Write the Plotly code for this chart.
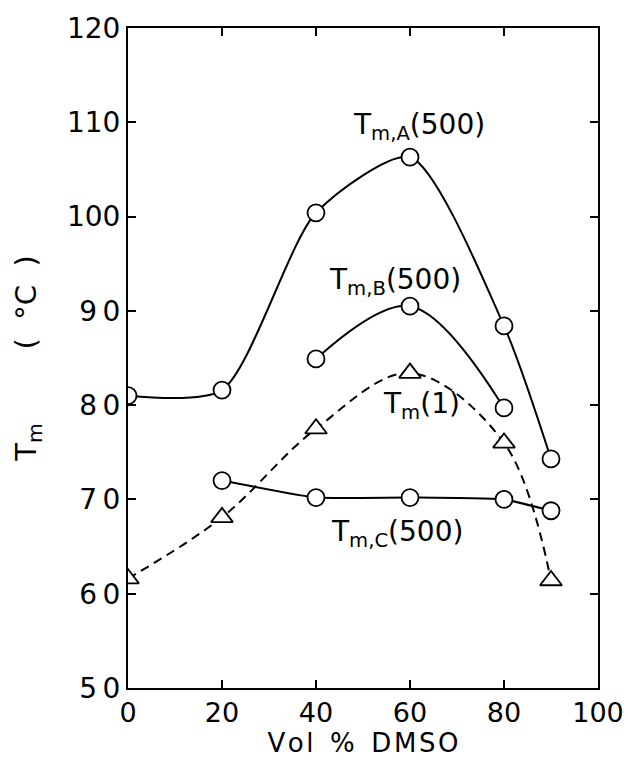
import plotly.graph_objects as go

# Vol % DMSO and melting temperatures (deg C)
dmso_a = [0, 20, 40, 60, 80, 90]
tm_a = [81.0, 81.6, 100.4, 106.3, 88.4, 74.3]

dmso_b = [40, 60, 80]
tm_b = [84.9, 90.5, 79.7]

dmso_1 = [0, 20, 40, 60, 80, 90]
tm_1 = [61.6, 68.1, 77.5, 83.4, 76.0, 61.4]

dmso_c = [20, 40, 60, 80, 90]
tm_c = [72.0, 70.2, 70.2, 70.0, 68.8]

x_ticks = [0, 20, 40, 60, 80, 100]
y_ticks = [50, 60, 70, 80, 90, 100, 110, 120]
y_tick_text = ["5\u20090", "6\u20090", "7\u20090", "8\u20090", "9\u20090", "100", "110", "120"]

FONT = "DejaVu Sans"
circle = dict(symbol="circle", size=17, color="white", line=dict(color="black", width=1.8))
triangle = dict(symbol="triangle-up", size=19, color="white", line=dict(color="black", width=1.8))

fig = go.Figure()
fig.add_trace(go.Scatter(x=dmso_1, y=tm_1, mode="lines+markers", marker=triangle,
                         line=dict(color="black", width=2, shape="spline", smoothing=1.0, dash="9px,6px")))
fig.add_trace(go.Scatter(x=dmso_c, y=tm_c, mode="lines+markers", marker=circle,
                         line=dict(color="black", width=2, shape="spline", smoothing=0.4)))
fig.add_trace(go.Scatter(x=dmso_b, y=tm_b, mode="lines+markers", marker=circle,
                         line=dict(color="black", width=2, shape="spline", smoothing=1.0)))
fig.add_trace(go.Scatter(x=dmso_a, y=tm_a, mode="lines+markers", marker=circle,
                         line=dict(color="black", width=2, shape="spline", smoothing=0.7)))

# curve labels: (x, y, text)
labels = [
    (61.9, 109.6, "T<sub>m,A</sub>(500)"),
    (56.9, 93.1, "T<sub>m,B</sub>(500)"),
    (62.4, 80.0, "T<sub>m</sub>(1)"),
    (57.3, 66.35, "T<sub>m,C</sub>(500)"),
]
for x, y, t in labels:
    fig.add_annotation(x=x, y=y, text=t, showarrow=False,
                       font=dict(family=FONT, size=28, color="black"))

axis_common = dict(showline=True, linecolor="black", linewidth=2, mirror="ticks",
                   ticks="inside", ticklen=8, tickwidth=1.8, tickcolor="black",
                   showgrid=False, zeroline=False, automargin=False)

x_title = "V\u200ao\u200al\u00a0\u00a0%\u00a0\u00a0D\u200aM\u200aS\u200aO"
y_title = ("T<sub>m</sub>" + "\u00a0" * 8 + "(\u00a0\u00a0°C\u00a0\u00a0)")

fig.update_xaxes(range=[0, 100], tickvals=x_ticks, ticktext=[str(v) for v in x_ticks],
                 tickfont=dict(family=FONT, size=27, color="black"),
                 title=dict(text=x_title, font=dict(family=FONT, size=26, color="black"),
                            standoff=2),
                 **axis_common)
fig.update_yaxes(range=[50, 120], tickvals=y_ticks, ticktext=y_tick_text,
                 tickfont=dict(family=FONT, size=28, color="black"),
                 title=dict(text=y_title, font=dict(family=FONT, size=29, color="black"),
                            standoff=22),
                 **axis_common)

fig.update_layout(width=628, height=761, showlegend=False,
                  plot_bgcolor="white", paper_bgcolor="white",
                  margin=dict(l=128, r=30, t=28, b=73))

fig.write_html("out.html")
